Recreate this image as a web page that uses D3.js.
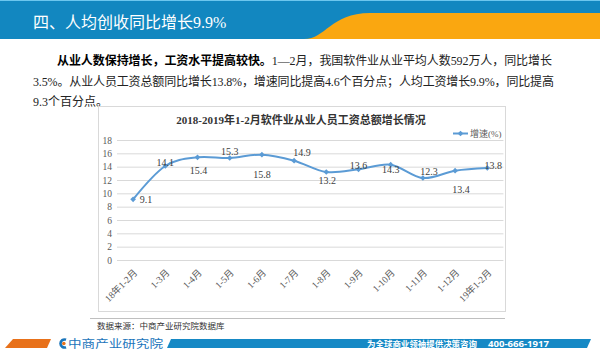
<!DOCTYPE html>
<html><head><meta charset="utf-8">
<script src="https://cdn.jsdelivr.net/npm/d3@7/dist/d3.min.js"></script>
<style>
html,body{margin:0;padding:0;background:#fff;}
svg{display:block;}
</style></head>
<body>
<svg id="c" width="600" height="356"></svg>
<script>
// ---- data ----
const categories = ["18年1-2月","1-3月","1-4月","1-5月","1-6月","1-7月","1-8月","1-9月","1-10月","1-11月","1-12月","19年1-2月"];
const growth = [9.1,14.1,15.4,15.3,15.8,14.9,13.2,13.6,14.3,12.3,13.4,13.8];
const yTicks = [0,2,4,6,8,10,12,14,16,18];
const seriesName = "增速(%)";
const chartTitle = "2018-2019年1-2月软件业从业人员工资总额增长情况";
const labelNudge = [[13,0],[0,-4],[1,13],[0,-7],[0,20],[8,-8],[1,8],[0,-4],[0,5],[6,-7],[6,19],[6,-3]];

const SERIF = "'Liberation Serif','Noto Sans CJK SC',serif";
const SANS = "'Noto Sans CJK SC','Noto Sans',sans-serif";
const svg = d3.select("#c");

// ---- header band ----
svg.append("rect").attr("x",0).attr("y",0).attr("width",600).attr("height",39).attr("fill","#1287C0");
svg.append("rect").attr("x",0).attr("y",0).attr("width",600).attr("height",1).attr("fill","#6cc6ee");
svg.append("path").attr("d","M304,39 C326,39 330,13.5 370,13 L600,13 L600,39 Z").attr("fill","#FAA710");
svg.append("text").attr("x",33).attr("y",27.5).attr("fill","#fff")
  .style("font-family",SERIF).style("font-size","16px").text("四、人均创收同比增长9.9%");

// ---- paragraph ----
const p = svg.append("g").style("font-family",SERIF).style("font-size","12px").attr("fill","#222");
const l1 = p.append("text").attr("x",57).attr("y",65).attr("textLength",495).attr("lengthAdjust","spacing");
l1.append("tspan").style("font-weight","bold").attr("fill","#000").text("从业人数保持增长，工资水平提高较快。");
l1.append("tspan").text("1—2月，我国软件业从业平均人数592万人，同比增长");
p.append("text").attr("x",33).attr("y",86).attr("textLength",521).attr("lengthAdjust","spacing")
  .text("3.5%。从业人员工资总额同比增长13.8%，增速同比提高4.6个百分点；人均工资增长9.9%，同比提高");
p.append("text").attr("x",33).attr("y",106).text("9.3个百分点。");

// ---- chart box ----
svg.append("rect").attr("x",98.5).attr("y",106.5).attr("width",407).attr("height",205)
  .attr("fill","#fff").attr("stroke","#d9d9d9").attr("stroke-width",1);

svg.append("text").attr("x",301).attr("y",124).attr("text-anchor","middle")
  .style("font-family",SERIF).style("font-size","11px").style("font-weight","bold").attr("fill","#333")
  .text(chartTitle);

const x = d3.scalePoint().domain(categories).range([117,503.4]).padding(0.5);
const y = d3.scaleLinear().domain([0,18]).range([260,140]);

// gridlines + y labels
const ya = svg.append("g").attr("transform","translate(117,0)")
  .call(d3.axisLeft(y).tickValues(yTicks).tickSize(-386.4).tickPadding(5).tickFormat(d3.format("d")));
ya.select(".domain").remove();
ya.selectAll("line").attr("stroke","#d9d9d9");
ya.selectAll("text").attr("fill","#595959").style("font-family",SERIF).style("font-size","9.5px");

// x labels
const xa = svg.append("g").attr("transform","translate(0,260)")
  .call(d3.axisBottom(x).tickSize(0));
xa.select(".domain").remove();
xa.selectAll("text").attr("fill","#595959").style("font-family",SERIF).style("font-size","9.5px")
  .attr("text-anchor","end").attr("x",0).attr("y",0).attr("dy","0.35em")
  .attr("transform","translate(2,11) rotate(-45)");

// line
const color = "#5B9BD5";
const line = d3.line().x((d,i)=>x(categories[i])).y(d=>y(d)).curve(d3.curveCardinal.tension(0));
svg.append("path").datum(growth).attr("d",line).attr("fill","none").attr("stroke",color).attr("stroke-width",2);

svg.append("g").selectAll("path").data(growth).join("path")
  .attr("d",d3.symbol(d3.symbolSquare,16)())
  .attr("transform",(d,i)=>`translate(${x(categories[i])},${y(d)}) rotate(45)`)
  .attr("fill",color);

svg.append("g").selectAll("text").data(growth).join("text")
  .attr("x",(d,i)=>x(categories[i])+labelNudge[i][0])
  .attr("y",(d,i)=>y(d)+labelNudge[i][1])
  .attr("dy","0.35em").attr("text-anchor","middle")
  .style("font-family",SERIF).style("font-size","10px").attr("fill","#404040")
  .text(d=>d.toFixed(1));

// legend
const lg = svg.append("g");
lg.append("line").attr("x1",453).attr("x2",468).attr("y1",133.5).attr("y2",133.5).attr("stroke",color).attr("stroke-width",2);
lg.append("path").attr("d",d3.symbol(d3.symbolSquare,16)()).attr("transform","translate(460.5,133.5) rotate(45)").attr("fill",color);
lg.append("text").attr("x",470).attr("y",133.5).attr("dy","0.35em").style("font-family",SERIF).style("font-size","9px")
  .attr("fill","#595959").text(seriesName);

// ---- source ----
svg.append("line").attr("x1",90).attr("x2",505).attr("y1",318.5).attr("y2",318.5).attr("stroke","#bfbfbf").attr("stroke-width",1);
svg.append("text").attr("x",97).attr("y",329).style("font-family",SANS).style("font-size","8.5px").attr("fill","#333")
  .text("数据来源：中商产业研究院数据库");

// ---- footer ----
svg.append("path").attr("d","M13,339 L51,339 L47,348 L5,348 Z").attr("fill","#E8711A");
svg.append("path").attr("d","M171,339 L591,339 L587,348 L167,348 Z").attr("fill","#1689C5");
svg.append("path").attr("d","M66,339.8 A4,4 0 1 0 66,347.2").attr("fill","none").attr("stroke","#1b75bb").attr("stroke-width",2.6);
svg.append("circle").attr("cx",63.8).attr("cy",343.5).attr("r",1.8).attr("fill","#E8711A");
svg.append("text").attr("x",68).attr("y",347.6).attr("textLength",95).attr("lengthAdjust","spacingAndGlyphs")
  .style("font-family",SANS).style("font-size","11px").attr("fill","#1b75bb").text("中商产业研究院");
svg.append("text").attr("x",367).attr("y",347).attr("textLength",110).attr("lengthAdjust","spacingAndGlyphs")
  .style("font-family",SANS).style("font-size","8.5px").style("font-weight","bold").attr("fill","#fff").text("为全球商业领袖提供决策咨询");
svg.append("text").attr("x",488).attr("y",347).attr("textLength",61).attr("lengthAdjust","spacingAndGlyphs")
  .style("font-family","'Open Sans','DejaVu Sans',sans-serif").style("font-size","9.5px").style("font-weight","bold").attr("fill","#fff").text("400-666-1917");
</script>
</body></html>
